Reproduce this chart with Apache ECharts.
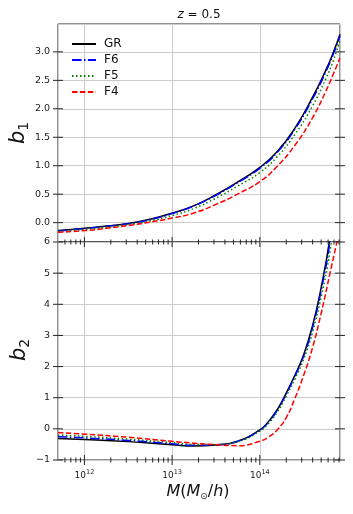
<!DOCTYPE html>
<html>
<head>
<meta charset="utf-8">
<script src="https://cdn.jsdelivr.net/npm/echarts@6/dist/echarts.min.js"></script>
<style>
  html, body { margin: 0; padding: 0; background: #fff; }
  #chart { width: 353px; height: 514px; }
</style>
</head>
<body>
<div id="chart"></div>
<script>
// halo mass grids (M_sun/h)
const massTop = [5.0e11, 1.0e12, 1.78e12, 3.16e12, 5.62e12, 1.0e13, 1.78e13, 3.16e13, 5.62e13,
  1.0e14, 1.58e14, 2.51e14, 3.98e14, 5.62e14, 6.92e14, 8.2e14]
const massBottom = [5.0e11, 1.0e12, 3.16e12, 1.0e13, 1.78e13, 3.16e13, 5.62e13, 1.0e14, 1.26e14,
  1.58e14, 2.0e14, 2.51e14, 3.16e14, 3.98e14, 5.01e14, 6.31e14, 8.2e14]

// linear bias b1
const b1GR = [-0.14, -0.10, -0.06, -0.015, 0.06, 0.165, 0.30, 0.49, 0.715, 0.97, 1.25, 1.66, 2.20, 2.67, 3.00, 3.31]
const b1F6 = [-0.145, -0.105, -0.065, -0.02, 0.055, 0.16, 0.295, 0.48, 0.705, 0.955, 1.235, 1.64, 2.17, 2.64, 2.97, 3.28]
const b1F5 = [-0.155, -0.12, -0.08, -0.035, 0.03, 0.125, 0.25, 0.43, 0.645, 0.88, 1.16, 1.55, 2.05, 2.52, 2.86, 3.21]
const b1F4 = [-0.17, -0.14, -0.10, -0.05, 0.01, 0.08, 0.17, 0.32, 0.505, 0.72, 0.99, 1.36, 1.84, 2.30, 2.62, 2.89]

// second order bias b2
const b2GR = [-0.31, -0.34, -0.41, -0.51, -0.55, -0.52, -0.40, -0.03, 0.24, 0.62, 1.15, 1.72, 2.38, 3.30, 4.55, 6.15, 8.6]
const b2F6 = [-0.25, -0.29, -0.37, -0.48, -0.53, -0.51, -0.40, -0.04, 0.22, 0.60, 1.12, 1.69, 2.34, 3.24, 4.46, 6.0, 8.4]
const b2F5 = [-0.20, -0.24, -0.33, -0.44, -0.50, -0.50, -0.41, -0.07, 0.18, 0.54, 1.05, 1.60, 2.24, 3.10, 4.25, 5.70, 8.0]
const b2F4 = [-0.12, -0.17, -0.27, -0.40, -0.46, -0.51, -0.54, -0.40, -0.26, -0.03, 0.36, 0.98, 1.72, 2.60, 3.72, 5.0, 6.45]

// ticks
const b1Ticks = [0, 0.5, 1, 1.5, 2, 2.5, 3]
const b2Ticks = [-1, 0, 1, 2, 3, 4, 5, 6]
const massMajor = [1e12, 1e13, 1e14]
const massMinor = [6e11, 7e11, 8e11, 9e11,
  2e12, 3e12, 4e12, 5e12, 6e12, 7e12, 8e12, 9e12,
  2e13, 3e13, 4e13, 5e13, 6e13, 7e13, 8e13, 9e13,
  2e14, 3e14, 4e14, 5e14, 6e14, 7e14, 8e14]

const massMin = 5.0e11
const massMax = 8.2e14
const font = 'DejaVu Sans'
const ink = '#222'

function curve(name, mass, vals, idx, color, type) {
  return {
    name,
    type: 'line',
    xAxisIndex: idx,
    yAxisIndex: idx,
    data: mass.map((m, i) => [m, vals[i]]),
    smooth: 0.5,
    symbol: 'none',
    showSymbol: false,
    color,
    lineStyle: { color, width: 1.5, type },
    animation: false
  }
}

function ticks(idx, yTicks, yMin, yMax) {
  return {
    type: 'custom',
    xAxisIndex: idx,
    yAxisIndex: idx,
    silent: true,
    clip: false,
    z: 10,
    data: [[massMin, yMin]],
    renderItem(params, api) {
      const children = []
      const seg = (x1, y1, x2, y2) => children.push({
        type: 'line', shape: { x1, y1, x2, y2 }, style: { stroke: ink, lineWidth: 1 }
      })
      const xl = api.coord([massMin, yMin])[0]
      const xr = api.coord([massMax, yMin])[0]
      const yb = api.coord([massMin, yMin])[1]
      yTicks.forEach((t) => {
        const y = api.coord([massMin, t])[1]
        seg(xl - 5, y, xl + 5, y)
        seg(xr - 5, y, xr + 5, y)
      })
      massMajor.forEach((m) => {
        const x = api.coord([m, yMin])[0]
        seg(x, yb - 5, x, yb + 5)
      })
      massMinor.forEach((m) => {
        const x = api.coord([m, yMin])[0]
        seg(x, yb - 2.5, x, yb + 2.5)
      })
      return { type: 'group', children }
    }
  }
}

function xAxis(idx, showLabel) {
  return {
    type: 'log',
    logBase: 10,
    gridIndex: idx,
    min: massMin,
    max: massMax,
    axisLine: { show: false },
    axisTick: { show: false },
    splitLine: { show: true, lineStyle: { color: '#cccccc', width: 1 } },
    axisLabel: {
      show: showLabel,
      margin: 9,
      color: ink,
      fontFamily: font,
      fontSize: 9,
      formatter: (v) => {
        const e = Math.log10(v)
        if (Math.abs(e - Math.round(e)) > 1e-6) return ''
        return '{n|10}{p|' + Math.round(e) + '}'
      },
      rich: {
        n: { fontFamily: font, fontSize: 9, color: ink },
        p: { fontFamily: font, fontSize: 6.5, color: ink, padding: [0, 0, 7, 0] }
      }
    }
  }
}

function yLabel(sub, x, y) {
  return {
    type: 'text', x, y, rotation: Math.PI / 2,
    style: {
      text: '{b|b}{s|' + sub + '}', align: 'center', verticalAlign: 'middle', fill: '#111',
      rich: {
        b: { fontFamily: font, fontSize: 21, fontStyle: 'italic', fill: '#111' },
        s: { fontFamily: font, fontSize: 14, fill: '#111', padding: [11, 0, 0, 0] }
      }
    }
  }
}

const chart = echarts.init(document.getElementById('chart'))
chart.setOption({
  animation: false,
  backgroundColor: '#fff',
  grid: [
    { left: 58, top: 24, width: 282, height: 218, show: true, borderColor: ink, borderWidth: 1, backgroundColor: 'transparent' },
    { left: 58, top: 242, width: 282, height: 218, show: true, borderColor: ink, borderWidth: 1, backgroundColor: 'transparent' }
  ],
  xAxis: [xAxis(0, false), xAxis(1, true)],
  yAxis: [
    {
      type: 'value',
      gridIndex: 0,
      min: -0.34,
      max: 3.49,
      splitNumber: 8,
      axisLine: { show: false },
      axisTick: { show: false },
      splitLine: { lineStyle: { color: '#cccccc', width: 1 } },
      axisLabel: {
        margin: 8,
        color: ink,
        fontFamily: font,
        fontSize: 9.5,
        formatter: (v) => (Math.abs(v * 2 - Math.round(v * 2)) < 1e-6 ? v.toFixed(1) : '')
      }
    },
    {
      type: 'value',
      gridIndex: 1,
      min: -1,
      max: 6,
      interval: 1,
      axisLine: { show: false },
      axisTick: { show: false },
      splitLine: { lineStyle: { color: '#cccccc', width: 1 } },
      axisLabel: {
        margin: 8,
        color: ink,
        fontFamily: font,
        fontSize: 9.5,
        formatter: (v) => (v < 0 ? '\u2212' + Math.abs(v) : String(v))
      }
    }
  ],
  legend: {
    data: ['GR', 'F6', 'F5', 'F4'],
    orient: 'vertical',
    left: 66,
    top: 33,
    itemWidth: 24,
    itemHeight: 12,
    itemGap: 4,
    itemStyle: { opacity: 0 },
    textStyle: { fontFamily: font, fontSize: 12, color: '#111', padding: [0, 0, 0, 3] }
  },
  graphic: [
    {
      type: 'text', x: 199, y: 15,
      style: {
        text: '{i|z} = 0.5', align: 'center', verticalAlign: 'middle',
        fontFamily: font, fontSize: 12, fill: '#111',
        rich: { i: { fontFamily: font, fontSize: 12, fontStyle: 'italic', fill: '#111' } }
      }
    },
    yLabel('1', 19, 133),
    yLabel('2', 20, 350),
    {
      type: 'text', x: 198, y: 492,
      style: {
        text: '{i|M}({i|M}{s|\u2299}/{i|h})', align: 'center', verticalAlign: 'middle',
        fontFamily: font, fontSize: 16, fill: '#111',
        rich: {
          i: { fontFamily: font, fontSize: 16, fontStyle: 'italic', fill: '#111' },
          s: { fontFamily: font, fontSize: 9, fill: '#111', padding: [10, 0, 0, 0] }
        }
      }
    }
  ],
  series: [
    curve('GR', massTop, b1GR, 0, '#000000', 'solid'),
    curve('F6', massTop, b1F6, 0, '#0000ff', [9.6, 2.4, 1.5, 2.4]),
    curve('F5', massTop, b1F5, 0, '#008000', [1.5, 2.5]),
    curve('F4', massTop, b1F4, 0, '#ff0000', [5.5, 2.4]),
    curve('GR', massBottom, b2GR, 1, '#000000', 'solid'),
    curve('F6', massBottom, b2F6, 1, '#0000ff', [9.6, 2.4, 1.5, 2.4]),
    curve('F5', massBottom, b2F5, 1, '#008000', [1.5, 2.5]),
    curve('F4', massBottom, b2F4, 1, '#ff0000', [5.5, 2.4]),
    ticks(0, b1Ticks, -0.34, 3.49),
    ticks(1, b2Ticks, -1, 6)
  ]
})
</script>
</body>
</html>
